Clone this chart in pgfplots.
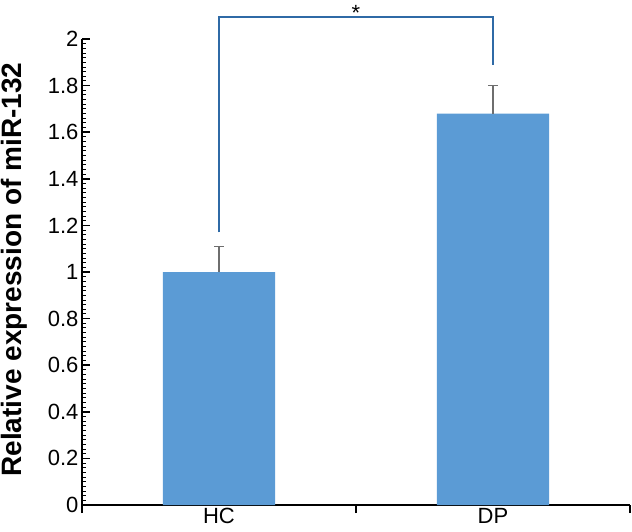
\documentclass[border=0pt]{standalone}
\usepackage{fontspec}
\setmainfont{Liberation Sans}
\usepackage{pgfplots}
\pgfplotsset{compat=1.18}
\definecolor{barblue}{HTML}{5B9BD5}
\definecolor{brk}{HTML}{2F6AA6}
\definecolor{errgray}{HTML}{6E6E6E}
\begin{document}
\begin{tikzpicture}
\useasboundingbox (-82pt,-26pt) rectangle (550pt,505pt);
\begin{axis}[
  anchor=south west, at={(0pt,0pt)},
  scale only axis, width=548pt, height=466pt,
  xmin=-0.5, xmax=1.5, ymin=0, ymax=2,
  axis x line*=bottom, axis y line*=left,
  axis line style={line width=2.6pt, black},
  clip=false,
  xtick={-0.5,0.5,1.5}, xticklabels={},
  extra x ticks={0,1}, extra x tick labels={HC,DP},
  extra x tick style={major tick length=0pt},
  xtick align=outside, ytick align=inside,
  ytick={0,0.2,...,2.01}, minor y tick num=9,
  major tick length=8pt, minor tick length=4pt,
  every tick/.style={black, line width=1.5pt},
  minor tick style={line width=0.9pt},
  /pgf/number format/assume math mode=true,
  yticklabel style={/pgf/number format/fixed, /pgf/number format/precision=1},
  tick label style={font=\fontsize{22}{26}\selectfont},
  ylabel={Relative expression of miR-132},
  ylabel style={font=\fontsize{28}{32}\selectfont\bfseries, at={(axis description cs:-0.1230,0.505)}, anchor=center},
]
\addplot[ybar, bar width=0.41, fill=barblue, draw=none,
  error bars/.cd, y dir=plus, y explicit,
  error bar style={errgray, line width=1.4pt},
  error mark options={rotate=90, mark size=5pt, errgray, line width=1.4pt}]
  coordinates {(0,1.00) +- (0,0.11) (1,1.68) +- (0,0.12)};
\addplot[brk, line width=2.2pt, mark=none] coordinates {(0,1.17) (0,2.094) (1,2.094) (1,1.89)};
\node[anchor=base, font=\fontsize{22}{26}\selectfont, inner sep=0pt, yshift=-3pt] at (axis cs:0.5,2.094) {*};
\end{axis}
\end{tikzpicture}
\end{document}
